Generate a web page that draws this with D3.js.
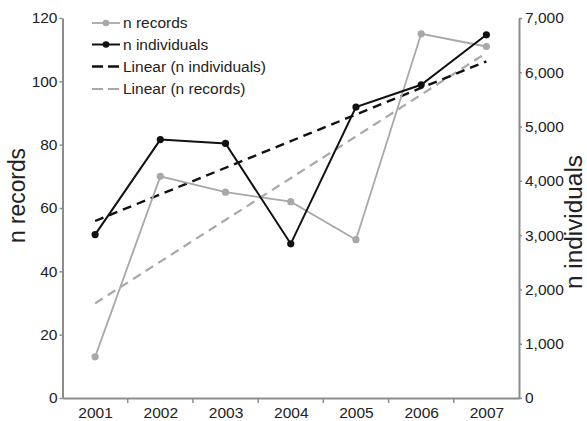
<!DOCTYPE html>
<html><head><meta charset="utf-8">
<script src="https://cdn.jsdelivr.net/npm/d3@7"></script>
<style>
html,body{margin:0;padding:0;background:#fff;}
text{font-family:"Liberation Sans",Arial,sans-serif;fill:#222;}
</style></head>
<body><svg id="c" width="587" height="421"></svg>
<script>
const years = ["2001","2002","2003","2004","2005","2006","2007"];
const nRecords = [13, 70, 65, 62, 50, 115, 111];
const nIndividuals = [3010, 4760, 4690, 2840, 5360, 5770, 6690];
const leftTicks = [0, 20, 40, 60, 80, 100, 120];
const rightTicks = [0, 1000, 2000, 3000, 4000, 5000, 6000, 7000];
const legendLabels = ["n records", "n individuals", "Linear (n individuals)", "Linear (n records)"];

const svg = d3.select("#c");
const L = 62.5, R = 519, T = 18, B = 398;
const axisCol = "#8c8c8c", grayCol = "#a8a8a8", blackCol = "#111";

const xBand = d3.scaleBand().domain(years).range([L, R]);
const x = d3.scalePoint().domain(years).range([L, R]).padding(0.5);
const yL = d3.scaleLinear().domain([0, 120]).range([B, T]);
const yR = d3.scaleLinear().domain([0, 7000]).range([B, T]);

function fit(vals) {
  const n = vals.length, xs = vals.map((_, i) => i);
  const mx = d3.mean(xs), my = d3.mean(vals);
  const sxy = d3.sum(xs, (xi, i) => (xi - mx) * (vals[i] - my));
  const sxx = d3.sum(xs, xi => (xi - mx) ** 2);
  const s = sxy / sxx, b = my - s * mx;
  return [b, b + s * (n - 1)];
}
const fitRec = fit(nRecords), fitInd = fit(nIndividuals);

// axes
const gL = svg.append("g").attr("transform", `translate(${L},0)`)
  .call(d3.axisLeft(yL).tickValues(leftTicks).tickSize(3).tickSizeOuter(0).tickPadding(2));
const gR = svg.append("g").attr("transform", `translate(${R},0)`)
  .call(d3.axisRight(yR).tickValues(rightTicks).tickSize(3).tickSizeOuter(0).tickPadding(3).tickFormat(d3.format(",")));
const gB = svg.append("g").attr("transform", `translate(0,${B})`)
  .call(d3.axisBottom(x).tickSize(0).tickSizeOuter(0).tickPadding(9));
[gL, gR, gB].forEach(g => {
  g.select(".domain").attr("stroke", axisCol).attr("stroke-width", 2);
  g.selectAll(".tick line").attr("stroke", axisCol).attr("stroke-width", 1.5);
  g.selectAll(".tick text").style("font-size", "15.5px").attr("fill", "#222");
});
gB.select(".domain").attr("stroke-width", 1.8);
// category boundary ticks
svg.append("g").selectAll("line").data(years.slice(1)).join("line")
  .attr("x1", d => xBand(d)).attr("x2", d => xBand(d))
  .attr("y1", B).attr("y2", B + 5).attr("stroke", axisCol).attr("stroke-width", 1.5);

// axis titles
svg.append("text").attr("transform", `translate(25,${(148+243)/2}) rotate(-90)`)
  .attr("text-anchor", "middle").style("font-size", "23px")
  .attr("textLength", 95).attr("lengthAdjust", "spacingAndGlyphs").text("n records");
svg.append("text").attr("transform", `translate(582,222) rotate(-90)`)
  .attr("text-anchor", "middle").style("font-size", "23px")
  .attr("textLength", 134).attr("lengthAdjust", "spacingAndGlyphs").text("n individuals");

// trend lines
const x0 = x(years[0]), x1 = x(years[years.length - 1]);
svg.append("line").attr("x1", x0).attr("x2", x1)
  .attr("y1", yL(fitRec[0])).attr("y2", yL(fitRec[1]))
  .attr("stroke", grayCol).attr("stroke-width", 2.2).attr("stroke-dasharray", "9,6");
svg.append("line").attr("x1", x0).attr("x2", x1)
  .attr("y1", yR(fitInd[0])).attr("y2", yR(fitInd[1]))
  .attr("stroke", blackCol).attr("stroke-width", 2.4).attr("stroke-dasharray", "9,6");

// series
const lineL = d3.line().x((d, i) => x(years[i])).y(d => yL(d));
const lineR = d3.line().x((d, i) => x(years[i])).y(d => yR(d));
svg.append("path").attr("d", lineL(nRecords)).attr("fill", "none")
  .attr("stroke", grayCol).attr("stroke-width", 1.8);
svg.append("g").selectAll("circle").data(nRecords).join("circle")
  .attr("cx", (d, i) => x(years[i])).attr("cy", d => yL(d)).attr("r", 3.6).attr("fill", grayCol);
svg.append("path").attr("d", lineR(nIndividuals)).attr("fill", "none")
  .attr("stroke", blackCol).attr("stroke-width", 2);
svg.append("g").selectAll("circle").data(nIndividuals).join("circle")
  .attr("cx", (d, i) => x(years[i])).attr("cy", d => yR(d)).attr("r", 3.6).attr("fill", blackCol);

// legend
const legY = [23, 44.5, 66.5, 89];
const legStyle = [
  {c: grayCol, w: 1.8, dash: null, m: true},
  {c: blackCol, w: 2, dash: null, m: true},
  {c: blackCol, w: 2.4, dash: "11,5", m: false},
  {c: grayCol, w: 2.2, dash: "11,5", m: false}
];
const leg = svg.append("g");
legendLabels.forEach((lab, i) => {
  const s = legStyle[i], y = legY[i];
  leg.append("line").attr("x1", 92).attr("x2", 120).attr("y1", y).attr("y2", y)
    .attr("stroke", s.c).attr("stroke-width", s.w).attr("stroke-dasharray", s.dash);
  if (s.m) leg.append("circle").attr("cx", 106).attr("cy", y).attr("r", 3.3).attr("fill", s.c);
  leg.append("text").attr("x", 123).attr("y", y).attr("dy", "0.35em")
    .style("font-size", "15.5px").text(lab);
});
</script></body></html>
